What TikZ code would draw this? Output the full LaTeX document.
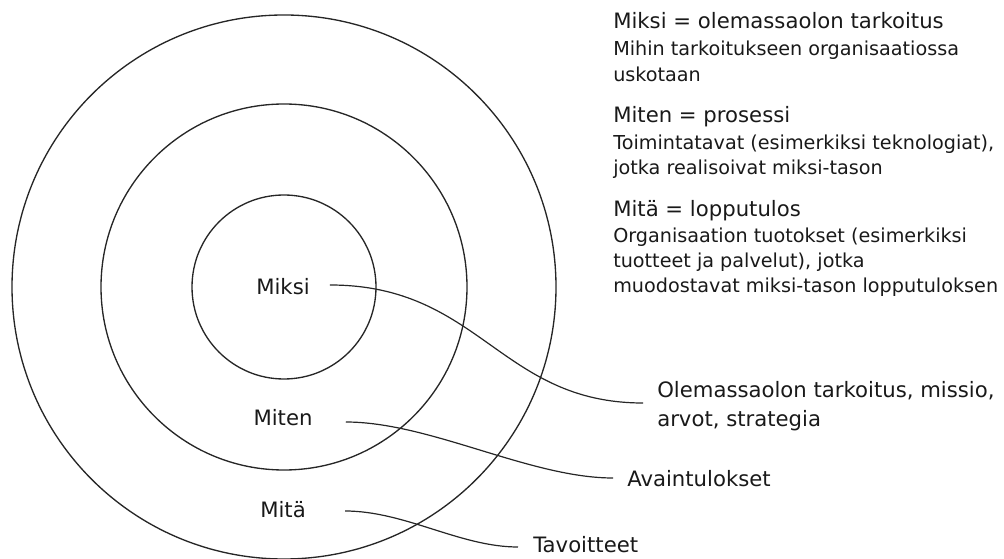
\documentclass[tikz,border=0pt]{standalone}
\usepackage{fontspec}
\setmainfont{DejaVu Sans}
\begin{document}
\begin{tikzpicture}[x=0.75pt,y=-0.75pt,
  ring/.style={draw=black!85, line width=1pt},
  conn/.style={draw=black!85, line width=0.9pt},
  big/.style={font=\fontsize{15.9}{19}\selectfont, text=black!90, inner sep=0pt},
  small/.style={font=\fontsize{14.4}{17}\selectfont, text=black!90, inner sep=0pt}]
\useasboundingbox (0,0) rectangle (1004,559);
% rings
\coordinate (c) at (284,287);
\draw[ring] (c) circle[radius=272];
\draw[ring] (c) circle[radius=183];
\draw[ring] (c) circle[radius=92];
% ring labels
\node[big, anchor=base] (miksi) at (283,295) {Miksi};
\node[big, anchor=base] (miten) at (283,426) {Miten};
\node[big, anchor=base] (mita) at (283,518) {Mitä};
% callout labels
\node[big, anchor=base west] (olem1) at (657,398) {Olemassaolon tarkoitus, missio,};
\node[big, anchor=base west] (olem2) at (657,427) {arvot, strategia};
\node[big, anchor=base west] (avain) at (627,487) {Avaintulokset};
\node[big, anchor=base west] (tavo) at (533,553) {Tavoitteet};
% connectors
\draw[conn] ([shift={(20,-10)}]miksi.base east) .. controls +(150,0) and +(-143,0) .. ([shift={(-14,5)}]olem1.base west);
\draw[conn] ([shift={(33,-4)}]miten.base east) .. controls +(84,0) and +(-83,0) .. ([shift={(-14,-9)}]avain.base west);
\draw[conn] ([shift={(39,-7)}]mita.base east) .. controls +(60,0) and +(-58,0) .. ([shift={(-15,-6)}]tavo.base west);
% legend
\node[big, anchor=base west] (h1) at (613,29) {Miksi = olemassaolon tarkoitus};
\node[small, anchor=base west] (h1a) at (613,56) {Mihin tarkoitukseen organisaatiossa};
\node[small, anchor=base west] (h1b) at (613,82) {uskotaan};
\node[big, anchor=base west] (h2) at (613,123) {Miten = prosessi};
\node[small, anchor=base west] (h2a) at (613,150) {Toimintatavat (esimerkiksi teknologiat),};
\node[small, anchor=base west] (h2b) at (613,175) {jotka realisoivat miksi-tason};
\node[big, anchor=base west] (h3) at (613,217) {Mitä = lopputulos};
\node[small, anchor=base west] (h3a) at (613,243) {Organisaation tuotokset (esimerkiksi};
\node[small, anchor=base west] (h3b) at (613,268) {tuotteet ja palvelut), jotka};
\node[small, anchor=base west] (h3c) at (613,293) {muodostavat miksi-tason lopputuloksen};
\end{tikzpicture}
\end{document}
